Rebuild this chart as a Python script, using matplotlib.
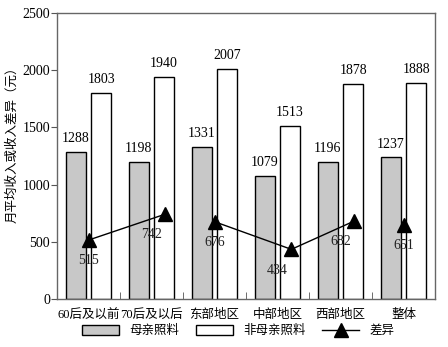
import matplotlib
matplotlib.use("Agg")
import matplotlib.pyplot as plt
from matplotlib.patches import Patch
from matplotlib.lines import Line2D
from matplotlib.ticker import MultipleLocator, FixedLocator

plt.rcParams['font.family'] = ['Liberation Serif', 'Noto Sans CJK SC']

categories = ["60后及以前", "70后及以后", "东部地区", "中部地区", "西部地区", "整体"]
mother_care = [1288, 1198, 1331, 1079, 1196, 1237]
non_mother_care = [1803, 1940, 2007, 1513, 1878, 1888]
difference = [515, 742, 676, 434, 682, 651]
# groups of categories joined by the difference line
line_groups = [[0, 1], [2, 3, 4], [5]]

# small sideways nudge of some triangles
marker_shift = [0, 0.22, 0, 0.22, 0.22, 0]

fig = plt.figure(figsize=(4.48, 3.47), dpi=100)
ax = fig.add_axes([57 / 448, 48 / 347, 378 / 448, 286 / 347])

x = list(range(len(categories)))
bw = 0.32
fs = 9     # chinese text
nfs = 10   # numbers

ax.bar([i - 0.2 for i in x], mother_care, width=bw, color="#c8c8c8",
       edgecolor="black", linewidth=1.0, zorder=2)
ax.bar([i + 0.2 for i in x], non_mother_care, width=bw, color="white",
       edgecolor="black", linewidth=1.0, zorder=2)

for i in x:
  ax.annotate(str(mother_care[i]), (i - 0.2, mother_care[i]), xytext=(0, 5),
              textcoords="offset points", ha="center", va="bottom", fontsize=nfs)
  ax.annotate(str(non_mother_care[i]), (i + 0.2, non_mother_care[i]), xytext=(0, 5),
              textcoords="offset points", ha="center", va="bottom", fontsize=nfs)

for group in line_groups:
  gx = [i + marker_shift[i] for i in group]
  gy = [difference[i] for i in group]
  ax.plot(gx, gy, color="black", linewidth=1.0, marker="^", markersize=10,
          markerfacecolor="black", markeredgecolor="black", zorder=4)

for i in x:
  ax.annotate(str(difference[i]), (i, difference[i]), xytext=(0, -15),
              textcoords="offset points", ha="center", va="center",
              fontsize=nfs, color="#222222", zorder=5)

ax.set_xlim(-0.5, len(categories) - 0.5)
ax.set_ylim(0, 2500)
ax.yaxis.set_major_locator(MultipleLocator(500))
ax.set_xticks(x)
ax.set_xticklabels(categories, fontsize=fs)
ax.xaxis.set_minor_locator(FixedLocator([i + 0.5 for i in x[:-1]]))
ax.tick_params(axis="x", which="major", length=0, pad=7)
ax.tick_params(axis="x", which="minor", direction="in", length=5, color="#555555")
ax.tick_params(axis="y", direction="out", length=4, labelsize=nfs, pad=1, color="#555555")

for sp in ax.spines.values():
  sp.set_color("#666666")
  sp.set_linewidth(1.0)

ax.set_ylabel("月平均收入或收入差异（元）", fontsize=fs)
ax.yaxis.set_label_coords(-0.103, 0.55)

handles = [
  Patch(facecolor="#c8c8c8", edgecolor="black", linewidth=1.0),
  Patch(facecolor="white", edgecolor="black", linewidth=1.0),
  Line2D([], [], color="black", linewidth=1.0, marker="^", markersize=10),
]
fig.legend(handles, ["母亲照料", "非母亲照料", "差异"], loc="center",
           bbox_to_anchor=(238 / 448, 1 - 331 / 347), ncol=3, frameon=False,
           fontsize=fs, handlelength=3.0, handleheight=0.9, handletextpad=0.8,
           columnspacing=1.3, borderpad=0)

fig.savefig("out.png", dpi=100)
